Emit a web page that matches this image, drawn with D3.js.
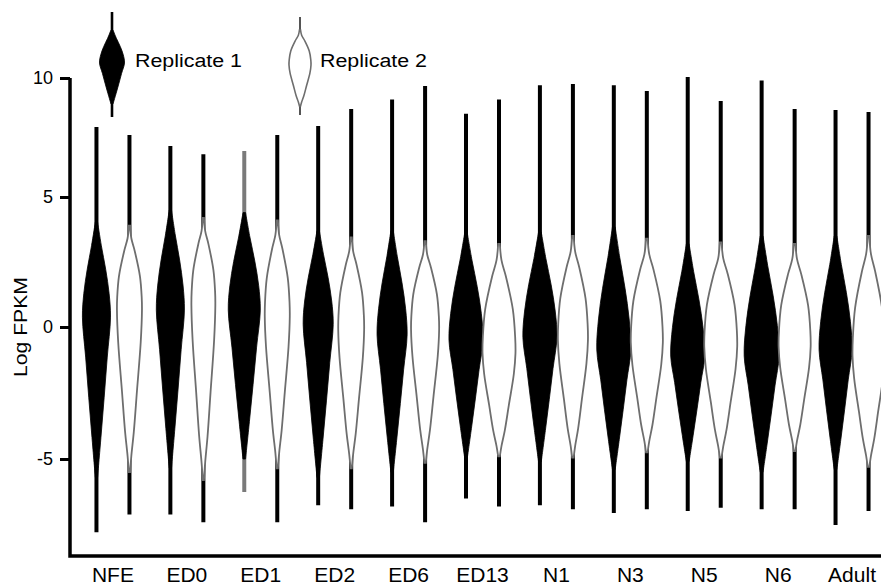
<!DOCTYPE html>
<html lang="en">
<head>
  <meta charset="UTF-8">
  <title>Log FPKM violins</title>
  <script src="https://d3js.org/d3.v7.min.js"></script>
  <style>
    body { margin: 0; background: #fff; }
    text { font-family: Arial, "Liberation Sans", sans-serif; fill: #000; }
  </style>
</head>
<body>
  <svg id="chart" width="881" height="585"></svg>
  <script>
    // stages
    const groups = ["NFE", "ED0", "ED1", "ED2", "ED6", "ED13", "N1", "N3", "N5", "N6", "Adult"];
    const replicates = ["Replicate 1", "Replicate 2"];
    const yTicks = [-5, 0, 5, 10];

    // replicate 1 (filled)
    const rep1Max    = [7.94, 7.14, 6.93, 7.98, 9.1, 8.5, 9.7, 9.7, 10.04, 9.9, 8.66];
    const rep1Min    = [-7.77, -7.1, -6.25, -6.75, -6.8, -6.5, -6.75, -7.05, -6.97, -6.9, -7.5];
    const rep1Top    = [4.04, 4.5, 4.4, 3.7, 3.7, 3.6, 3.65, 3.85, 3.2, 3.5, 3.5];
    const rep1Mode   = [0.38, 0.65, 0.65, 0.1, -0.3, -0.5, -0.4, -0.87, -1.1, -1.1, -0.87];
    const rep1Bottom = [-5.7, -5.35, -5.0, -5.7, -5.5, -4.95, -5.1, -5.4, -5.1, -5.5, -5.4];
    const rep1Peak   = [0.156, 0.156, 0.178, 0.167, 0.167, 0.189, 0.189, 0.189, 0.189, 0.194, 0.183];

    // replicate 2 (outline)
    const rep2Max    = [7.6, 6.8, 7.6, 8.7, 9.66, 9.1, 9.75, 9.45, 9.03, 8.7, 8.57];
    const rep2Min    = [-7.1, -7.4, -7.4, -6.9, -7.4, -6.8, -6.9, -6.9, -6.85, -6.9, -6.97];
    const rep2Top    = [3.9, 4.2, 4.1, 3.45, 3.3, 3.2, 3.5, 3.4, 3.25, 3.2, 3.5];
    const rep2Mode   = [0.65, 0.85, 0.4, -0.1, -0.1, -1.0, -0.5, -0.6, -0.75, -0.75, -1.1];
    const rep2Bottom = [-5.5, -5.8, -5.35, -5.35, -5.15, -4.9, -4.95, -4.75, -4.95, -4.7, -5.3];
    const rep2Peak   = [0.139, 0.133, 0.139, 0.144, 0.156, 0.183, 0.167, 0.178, 0.183, 0.178, 0.178];

    // violin outline shapes: [fraction along, fraction of peak width]
    const rep1Upper = [[0, 0.08], [0.25, 0.35], [0.5, 0.66], [0.75, 0.9], [1, 1]];
    const rep1Lower = [[0.25, 0.77], [0.5, 0.55], [0.75, 0.32], [1, 0.08]];
    const rep2Upper = [[0, 0.05], [0.15, 0.15], [0.3, 0.42], [0.6, 0.84], [0.85, 0.98], [1, 1]];
    const rep2Lower = [[0.2, 0.9], [0.5, 0.6], [0.75, 0.35], [0.9, 0.15], [1, 0.05]];

    const svg = d3.select("#chart");

    const y = d3.scaleLinear().domain([-5, 0, 5, 10]).range([459, 327, 197, 78]);
    const x = d3.scaleBand().domain(groups).range([76, 889]);
    const xRep = d3.scalePoint().domain(replicates).range([-16.5, 16.5]);
    const w = d3.scaleLinear().domain([0, 0.2]).range([0, 18]);

    const violins = [];
    groups.forEach((g, i) => {
      violins.push({ group: g, rep: replicates[0], min: rep1Min[i], max: rep1Max[i],
        top: rep1Top[i], mode: rep1Mode[i], bottom: rep1Bottom[i], peak: rep1Peak[i] });
      violins.push({ group: g, rep: replicates[1], min: rep2Min[i], max: rep2Max[i],
        top: rep2Top[i], mode: rep2Mode[i], bottom: rep2Bottom[i], peak: rep2Peak[i] });
    });

    function profile(v) {
      const up = v.rep === replicates[0] ? rep1Upper : rep2Upper;
      const lo = v.rep === replicates[0] ? rep1Lower : rep2Lower;
      const pts = up.map(([t, f]) => ({ v: v.top + (v.mode - v.top) * t, d: f * v.peak }));
      lo.forEach(([t, f]) => pts.push({ v: v.mode + (v.bottom - v.mode) * t, d: f * v.peak }));
      return pts;
    }

    const cx = v => x(v.group) + x.bandwidth() / 2 + xRep(v.rep);

    // whiskers
    svg.append("g").selectAll("line").data(violins).join("line")
      .attr("x1", cx).attr("x2", cx)
      .attr("y1", d => y(d.max)).attr("y2", d => y(d.min))
      .attr("stroke", d => (d.group === "ED1" && d.rep === replicates[0]) ? "#7a7a7a" : "#000")
      .attr("stroke-width", 4);

    // bodies
    svg.append("g").selectAll("path").data(violins).join("path")
      .attr("d", v => {
        const c = cx(v);
        return d3.area()
          .y(p => y(p.v))
          .x0(p => c - w(p.d))
          .x1(p => c + w(p.d))
          .curve(d3.curveCatmullRom)(profile(v));
      })
      .attr("fill", d => d.rep === replicates[0] ? "#000" : "#fff")
      .attr("stroke", d => d.rep === replicates[0] ? "#000" : "#6e6e6e")
      .attr("stroke-width", d => d.rep === replicates[0] ? 0.8 : 1.8);

    // axes
    const yAxis = svg.append("g").attr("transform", "translate(70,0)")
      .call(d3.axisLeft(y).tickValues(yTicks).tickSize(10).tickPadding(7).tickFormat(d => String(d)));
    yAxis.select(".domain").remove();
    yAxis.selectAll("line").attr("stroke", "#000").attr("stroke-width", 3);
    yAxis.selectAll("text").style("font-size", "18px").attr("fill", "#000");

    const xAxis = svg.append("g").attr("transform", "translate(0,556)")
      .call(d3.axisBottom(x).tickSize(0).tickPadding(11));
    xAxis.select(".domain").remove();
    xAxis.selectAll("text").style("font-size", "21px").attr("fill", "#000");

    svg.append("path")
      .attr("d", `M70,${y(10)}V556H881`)
      .attr("fill", "none").attr("stroke", "#000").attr("stroke-width", 3.5);

    svg.append("text")
      .attr("transform", "translate(27,327) rotate(-90)")
      .attr("text-anchor", "middle")
      .attr("textLength", 100).attr("lengthAdjust", "spacingAndGlyphs")
      .style("font-size", "18px")
      .text("Log FPKM");

    // legend
    function legendGlyph(c, y0, y1, top, mode, bottom, hw, isRep1) {
      const up = isRep1 ? rep1Upper : rep2Upper;
      const lo = isRep1 ? rep1Lower : rep2Lower;
      const pts = up.map(([t, f]) => ({ y: top + (mode - top) * t, d: f * hw }));
      lo.forEach(([t, f]) => pts.push({ y: mode + (bottom - mode) * t, d: f * hw }));
      svg.append("line").attr("x1", c).attr("x2", c).attr("y1", y0).attr("y2", y1)
        .attr("stroke", isRep1 ? "#000" : "#555").attr("stroke-width", isRep1 ? 2.6 : 2);
      svg.append("path")
        .attr("d", d3.area().y(p => p.y).x0(p => c - p.d).x1(p => c + p.d).curve(d3.curveCatmullRom)(pts))
        .attr("fill", isRep1 ? "#000" : "#fff")
        .attr("stroke", isRep1 ? "#000" : "#6e6e6e")
        .attr("stroke-width", isRep1 ? 0.8 : 1.6);
    }
    legendGlyph(112, 12, 117, 30, 63, 104, 12.5, true);
    legendGlyph(300, 17, 115, 30, 65, 106, 11, false);

    svg.append("text").attr("x", 135).attr("y", 67)
      .attr("textLength", 107).attr("lengthAdjust", "spacingAndGlyphs")
      .style("font-size", "18px").text(replicates[0]);
    svg.append("text").attr("x", 320).attr("y", 67)
      .attr("textLength", 107).attr("lengthAdjust", "spacingAndGlyphs")
      .style("font-size", "18px").text(replicates[1]);
  </script>
</body>
</html>
